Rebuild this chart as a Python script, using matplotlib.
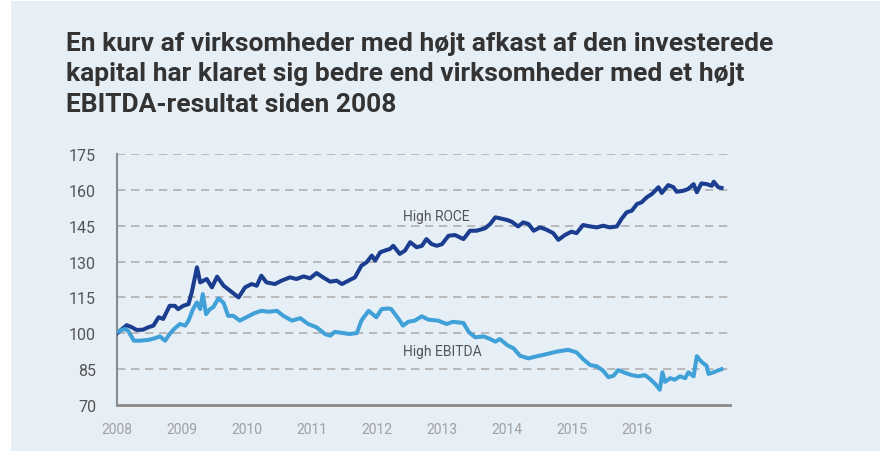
import matplotlib
matplotlib.use("Agg")
import matplotlib.pyplot as plt
from matplotlib.patches import Rectangle

plt.rcParams['font.family'] = ['Roboto', 'DejaVu Sans']

title = ("En kurv af virksomheder med højt afkast af den investerede\n"
         "kapital har klaret sig bedre end virksomheder med et højt\n"
         "EBITDA-resultat siden 2008")

# values (decimal year, index level)
roce_t = [2008.00, 2008.15, 2008.23, 2008.30, 2008.40, 2008.48, 2008.56, 2008.64, 2008.71, 2008.81,
          2008.89, 2008.94, 2009.02, 2009.10, 2009.15, 2009.23, 2009.28, 2009.38, 2009.46, 2009.54,
          2009.64, 2009.74, 2009.87, 2009.97, 2010.07, 2010.15, 2010.22, 2010.30, 2010.43, 2010.53,
          2010.66, 2010.76, 2010.87, 2010.97, 2011.07, 2011.17, 2011.28, 2011.38, 2011.46, 2011.56,
          2011.66, 2011.76, 2011.84, 2011.92, 2011.97, 2012.05, 2012.12, 2012.20, 2012.25, 2012.35,
          2012.43, 2012.51, 2012.61, 2012.69, 2012.76, 2012.84, 2012.92, 2013.00, 2013.10, 2013.20,
          2013.33, 2013.43, 2013.53, 2013.66, 2013.74, 2013.82, 2013.89, 2014.00, 2014.07, 2014.17,
          2014.25, 2014.33, 2014.41, 2014.51, 2014.61, 2014.71, 2014.79, 2014.89, 2014.99, 2015.07,
          2015.17, 2015.28, 2015.38, 2015.48, 2015.58, 2015.69, 2015.76, 2015.84, 2015.92, 2016.00,
          2016.07, 2016.15, 2016.23, 2016.33, 2016.38, 2016.48, 2016.56, 2016.61, 2016.71, 2016.79,
          2016.87, 2016.92, 2016.99, 2017.07, 2017.15, 2017.18, 2017.25, 2017.30]
roce_v = [100.0, 103.4, 102.5, 101.4, 101.5, 102.5, 103.2, 106.7, 106.0, 111.5,
          111.5, 110.1, 111.5, 112.2, 117.1, 127.6, 121.3, 122.7, 119.2, 123.7,
          119.9, 117.8, 115.0, 119.2, 120.6, 119.9, 124.1, 121.3, 120.6, 122.0,
          123.4, 122.7, 123.8, 123.0, 125.2, 123.4, 121.6, 122.0, 120.6, 122.0,
          123.4, 128.3, 129.7, 132.5, 130.4, 133.9, 134.6, 135.3, 136.6, 133.2,
          134.6, 138.1, 136.0, 136.6, 139.4, 137.3, 136.6, 137.3, 140.8, 141.1,
          139.4, 142.9, 142.9, 143.9, 145.7, 148.5, 148.1, 147.4, 146.7, 144.7,
          146.4, 145.7, 142.9, 144.3, 143.3, 141.9, 139.1, 141.1, 142.5, 141.9,
          145.3, 144.7, 144.3, 145.0, 144.3, 144.7, 147.8, 150.6, 151.3, 154.1,
          154.8, 156.9, 158.3, 161.1, 158.7, 162.0, 161.1, 159.2, 159.6, 160.4,
          162.4, 159.0, 162.7, 162.4, 161.7, 163.4, 161.1, 160.8]

ebitda_t = [2008.00, 2008.12, 2008.17, 2008.26, 2008.35, 2008.48, 2008.58, 2008.66, 2008.74, 2008.81,
            2008.89, 2008.97, 2009.05, 2009.10, 2009.17, 2009.23, 2009.28, 2009.32, 2009.37, 2009.43,
            2009.48, 2009.56, 2009.64, 2009.71, 2009.79, 2009.89, 2009.99, 2010.12, 2010.22, 2010.33,
            2010.46, 2010.56, 2010.69, 2010.82, 2010.94, 2011.07, 2011.20, 2011.28, 2011.35, 2011.48,
            2011.58, 2011.69, 2011.76, 2011.87, 2011.99, 2012.07, 2012.17, 2012.22, 2012.35, 2012.40,
            2012.48, 2012.58, 2012.69, 2012.79, 2012.94, 2013.07, 2013.17, 2013.33, 2013.41, 2013.51,
            2013.64, 2013.74, 2013.82, 2013.89, 2014.00, 2014.10, 2014.20, 2014.33, 2014.46, 2014.61,
            2014.76, 2014.94, 2015.07, 2015.17, 2015.28, 2015.38, 2015.48, 2015.56, 2015.64, 2015.71,
            2015.82, 2015.92, 2016.02, 2016.12, 2016.20, 2016.28, 2016.35, 2016.39, 2016.43, 2016.51,
            2016.58, 2016.66, 2016.74, 2016.79, 2016.87, 2016.92, 2016.99, 2017.07, 2017.10, 2017.18,
            2017.23, 2017.30]
ebitda_v = [100.6, 101.8, 101.1, 96.9, 96.9, 97.2, 97.9, 98.7, 96.9, 99.7,
            102.1, 103.9, 103.2, 105.3, 110.1, 112.9, 110.1, 116.4, 108.0, 110.1,
            110.9, 114.6, 112.7, 107.3, 107.3, 105.3, 106.7, 108.5, 109.4, 109.0,
            109.4, 107.3, 105.3, 106.3, 103.9, 102.5, 99.7, 99.0, 100.6, 100.1,
            99.7, 100.1, 105.3, 109.4, 106.7, 110.1, 110.4, 110.1, 105.3, 103.2,
            104.8, 105.3, 107.1, 105.7, 105.3, 103.9, 104.8, 104.3, 100.6, 98.3,
            98.7, 97.6, 96.5, 97.6, 95.1, 93.7, 90.6, 89.5, 90.4, 91.3,
            92.3, 93.1, 92.0, 89.2, 86.7, 86.2, 84.3, 81.6, 82.3, 84.6,
            83.4, 82.5, 82.0, 82.5, 80.9, 78.8, 76.4, 83.7, 79.7, 81.2,
            80.6, 82.0, 81.2, 83.7, 82.0, 90.4, 88.1, 86.4, 83.0, 83.7,
            84.3, 85.0]

years = list(range(2008, 2017))
y_ticks = [70, 85, 100, 115, 130, 145, 160, 175]

bg = "#e6eef6"
roce_col = "#1a3d8f"
ebitda_col = "#40a0d8"

fig = plt.figure(figsize=(8.9, 4.52), dpi=100)
fig.patch.set_facecolor("white")
fig.patches.append(Rectangle((11 / 890, 0), 869 / 890, 450 / 452, transform=fig.transFigure,
                             facecolor=bg, edgecolor="none", zorder=-10))

ax = fig.add_axes([117 / 890, 46 / 452, 613 / 890, 251 / 452])
ax.set_facecolor("none")
ax.set_zorder(2)

ax.plot(roce_t, roce_v, color=roce_col, lw=2.9, solid_joinstyle="round", zorder=3)
ax.plot(ebitda_t, ebitda_v, color=ebitda_col, lw=2.9, solid_joinstyle="round", zorder=3)

ax.set_xlim(2008, 2017.43)
ax.set_ylim(70, 175)
ax.set_yticks(y_ticks)
ax.set_xticks(years)
ax.set_xticklabels([str(y) for y in years])
ax.tick_params(axis="y", length=0, pad=15, labelsize=11.5, labelcolor="#555555")
ax.tick_params(axis="x", length=0, pad=12, labelsize=10, labelcolor="#a0a0a0")

for v in y_ticks[1:]:
    ax.axhline(v, color="#b0b0b0", lw=1.2, linestyle=(0, (5, 3.4)), zorder=1)

for s in ["top", "right"]:
    ax.spines[s].set_visible(False)
ax.spines["left"].set_color("#8a8a8a")
ax.spines["left"].set_linewidth(1.5)
ax.spines["bottom"].set_color("#8a8a8a")
ax.spines["bottom"].set_linewidth(2)

ax.text(2012.40, 149.1, "High ROCE", fontsize=10, color="#555555", va="center", ha="left")
ax.text(2012.40, 92.6, "High EBITDA", fontsize=10, color="#555555", va="center", ha="left")

fig.text(66 / 890, 1 - 32 / 452, title, fontsize=19, fontweight="bold", color="#333333",
         va="top", ha="left", linespacing=1.33)

fig.savefig("out.png", dpi=100, facecolor=fig.get_facecolor())
